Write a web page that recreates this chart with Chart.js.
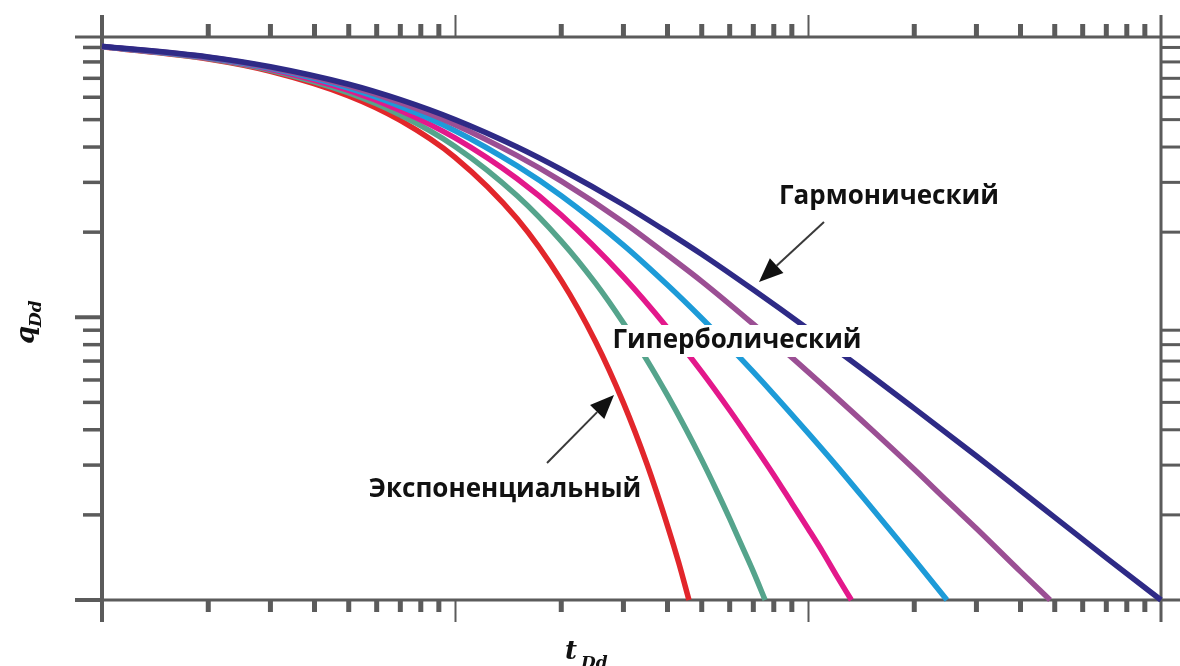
<!DOCTYPE html>
<html>
<head>
<meta charset="utf-8">
<script src="https://cdn.jsdelivr.net/npm/chart.js@4/dist/chart.umd.min.js"></script>
<style>
  html, body { margin: 0; padding: 0; background: #ffffff; }
  #wrap { width: 1180px; height: 666px; position: relative; }
</style>
</head>
<body>
<div id="wrap"><canvas id="c" width="1180" height="666"></canvas></div>
<script>
// Arps type curves: dimensionless rate q_Dd against dimensionless time t_Dd (log-log)
const tExp = [0.1, 0.2, 0.3, 0.5, 0.7, 1, 1.5, 2, 2.5, 3, 3.5, 4, 4.3, 4.6];
const qExp = [0.905, 0.819, 0.741, 0.607, 0.497, 0.368, 0.223, 0.135, 0.0821, 0.0498, 0.0302, 0.0183, 0.0136, 0.0100];

const tB02 = [0.1, 0.2, 0.3, 0.5, 0.7, 1, 1.5, 2, 2.5, 3, 3.5, 4, 4.5, 5, 5.5, 6, 6.5, 7, 7.56];
const qB02 = [0.906, 0.822, 0.747, 0.621, 0.519, 0.402, 0.269, 0.186, 0.132, 0.0954, 0.0704, 0.0529, 0.0404, 0.0313, 0.0245, 0.0194, 0.0155, 0.0126, 0.0100];

const tB04 = [0.1, 0.2, 0.3, 0.5, 0.7, 1, 1.5, 2, 3, 4, 5, 6, 7, 8, 9, 10, 11, 12, 13.27];
const qB04 = [0.907, 0.825, 0.753, 0.634, 0.539, 0.431, 0.309, 0.230, 0.139, 0.0917, 0.0641, 0.0469, 0.0355, 0.0277, 0.0220, 0.0179, 0.0148, 0.0123, 0.0100];

const tB06 = [0.1, 0.2, 0.3, 0.5, 0.7, 1, 1.5, 2, 3, 4, 5, 6, 7, 8, 10, 12, 15, 17, 20, 24.75];
const qB06 = [0.907, 0.828, 0.759, 0.646, 0.557, 0.457, 0.343, 0.269, 0.180, 0.130, 0.0992, 0.0786, 0.0641, 0.0534, 0.0390, 0.0300, 0.0215, 0.0178, 0.0139, 0.0100];

const tB08 = [0.1, 0.2, 0.3, 0.5, 0.7, 1, 1.5, 2, 3, 4, 5, 7, 10, 15, 20, 25, 30, 40, 48.5];
const qB08 = [0.908, 0.831, 0.764, 0.657, 0.574, 0.480, 0.373, 0.303, 0.217, 0.166, 0.134, 0.0945, 0.0641, 0.0405, 0.0290, 0.0222, 0.0179, 0.0126, 0.0100];

const tHarm = [0.1, 0.2, 0.3, 0.5, 0.7, 1, 1.5, 2, 3, 4, 5, 7, 10, 15, 20, 30, 40, 50, 70, 100];
const qHarm = [0.909, 0.833, 0.769, 0.667, 0.588, 0.500, 0.400, 0.333, 0.250, 0.200, 0.167, 0.125, 0.0909, 0.0625, 0.0476, 0.0323, 0.0244, 0.0196, 0.0141, 0.0100];

// axis tick values
const xMajorTicks = [0.1, 1, 10, 100];
const xMinorTicks = [0.2, 0.3, 0.4, 0.5, 0.6, 0.7, 0.8, 0.9, 2, 3, 4, 5, 6, 7, 8, 9, 20, 30, 40, 50, 60, 70, 80, 90];
const yMajorTicks = [0.01, 0.1];
const yMinorTicks = [0.02, 0.03, 0.04, 0.05, 0.06, 0.07, 0.08, 0.09, 0.2, 0.3, 0.4, 0.5, 0.6, 0.7, 0.8, 0.9];

// curve labels
const labelHarm = 'Гармонический';
const labelHyp = 'Гиперболический';
const labelExp = 'Экспоненциальный';

const curves = [
  { t: tHarm, q: qHarm, color: '#2e2a86' },
  { t: tB08,  q: qB08,  color: '#9b4f94' },
  { t: tB06,  q: qB06,  color: '#1d9bd8' },
  { t: tB04,  q: qB04,  color: '#e3188b' },
  { t: tB02,  q: qB02,  color: '#55a48c' },
  { t: tExp,  q: qExp,  color: '#e2262b' }
];

const datasets = curves.map(c => ({
  data: c.t.map((t, i) => ({ x: t, y: c.q[i] })),
  borderColor: c.color,
  borderWidth: 5.5,
  showLine: true,
  pointRadius: 0,
  fill: false,
  cubicInterpolationMode: 'monotone',
  clip: 12
}));

const AXIS = '#5b5b5b';

const framePlugin = {
  id: 'frame',
  beforeDatasetsDraw(chart) {
    const { ctx, chartArea: a, scales: { x, y } } = chart;
    ctx.save();
    ctx.strokeStyle = AXIS;
    ctx.lineCap = 'butt';
    const line = (x1, y1, x2, y2, w) => {
      ctx.lineWidth = w;
      ctx.beginPath(); ctx.moveTo(x1, y1); ctx.lineTo(x2, y2); ctx.stroke();
    };
    // frame
    line(75, a.top, 1180, a.top, 3);
    line(75, a.bottom, 1180, a.bottom, 3);
    line(a.left, a.top - 22, a.left, a.bottom + 22, 4);
    line(a.right, a.top - 22, a.right, a.bottom + 22, 3);
    // x ticks
    xMajorTicks.forEach(v => {
      const px = Math.round(x.getPixelForValue(v)) + 0.5;
      if (px > a.left + 3 && px < a.right - 3) {
        line(px, a.top, px, a.top - 22, 2);
        line(px, a.bottom, px, a.bottom + 22, 2);
      }
    });
    xMinorTicks.forEach(v => {
      const px = x.getPixelForValue(v);
      line(px, a.top, px, a.top - 13, 5);
      line(px, a.bottom, px, a.bottom + 12, 5);
    });
    // y ticks
    yMajorTicks.forEach(v => {
      const py = y.getPixelForValue(v);
      line(a.left, py, 75, py, 4);
    });
    yMinorTicks.forEach(v => {
      const py = y.getPixelForValue(v);
      line(a.left, py, 83, py, 3.5);
      line(a.right, py, 1180, py, 3);
    });
    ctx.restore();
  },
  afterDatasetsDraw(chart) {
    const { ctx } = chart;
    ctx.save();
    const font = 'bold 26px "Open Sans", "Liberation Sans", sans-serif';
    const label = (txt, cx, cy, box) => {
      ctx.font = font;
      const w = ctx.measureText(txt).width;
      if (box) {
        ctx.fillStyle = '#ffffff';
        ctx.fillRect(cx - w / 2 - 4, cy - 16, w + 8, 32);
      }
      ctx.fillStyle = '#111111';
      ctx.textAlign = 'center';
      ctx.textBaseline = 'middle';
      ctx.fillText(txt, cx, cy);
    };
    const arrow = (x1, y1, x2, y2) => {
      const ang = Math.atan2(y2 - y1, x2 - x1);
      const len = 24, half = 10;
      const bx = x2 - len * Math.cos(ang), by = y2 - len * Math.sin(ang);
      ctx.strokeStyle = '#3a3a3a';
      ctx.lineWidth = 2;
      ctx.beginPath(); ctx.moveTo(x1, y1); ctx.lineTo(bx, by); ctx.stroke();
      ctx.fillStyle = '#111111';
      ctx.beginPath();
      ctx.moveTo(x2, y2);
      ctx.lineTo(bx + half * Math.sin(ang), by - half * Math.cos(ang));
      ctx.lineTo(bx - half * Math.sin(ang), by + half * Math.cos(ang));
      ctx.closePath(); ctx.fill();
    };
    label(labelHarm, 889, 197, true);
    label(labelHyp, 737, 341, true);
    label(labelExp, 505, 490, false);
    arrow(824, 222, 759, 282);
    arrow(547, 463, 614, 395);

    // axis titles
    ctx.fillStyle = '#111111';
    ctx.textBaseline = 'alphabetic';
    ctx.textAlign = 'left';
    ctx.font = 'bold italic 26px "DejaVu Serif", serif';
    ctx.fillText('t', 565, 659);
    ctx.font = 'bold italic 17px "DejaVu Serif", serif';
    ctx.fillText('Dd', 581, 668);

    ctx.translate(34, 344);
    ctx.rotate(-Math.PI / 2);
    ctx.font = 'bold italic 26px "DejaVu Serif", serif';
    ctx.fillText('q', 0, 0);
    ctx.font = 'bold italic 17px "DejaVu Serif", serif';
    ctx.fillText('Dd', 17, 7);
    ctx.restore();
  }
};

new Chart(document.getElementById('c'), {
  type: 'scatter',
  data: { datasets },
  options: {
    responsive: false,
    animation: false,
    devicePixelRatio: 1,
    layout: { padding: { left: 102, right: 19, top: 37, bottom: 66 } },
    plugins: { legend: { display: false }, tooltip: { enabled: false } },
    scales: {
      x: { type: 'logarithmic', min: 0.1, max: 100, display: false },
      y: { type: 'logarithmic', min: 0.01, max: 0.98, display: false }
    }
  },
  plugins: [framePlugin]
});
</script>
</body>
</html>
